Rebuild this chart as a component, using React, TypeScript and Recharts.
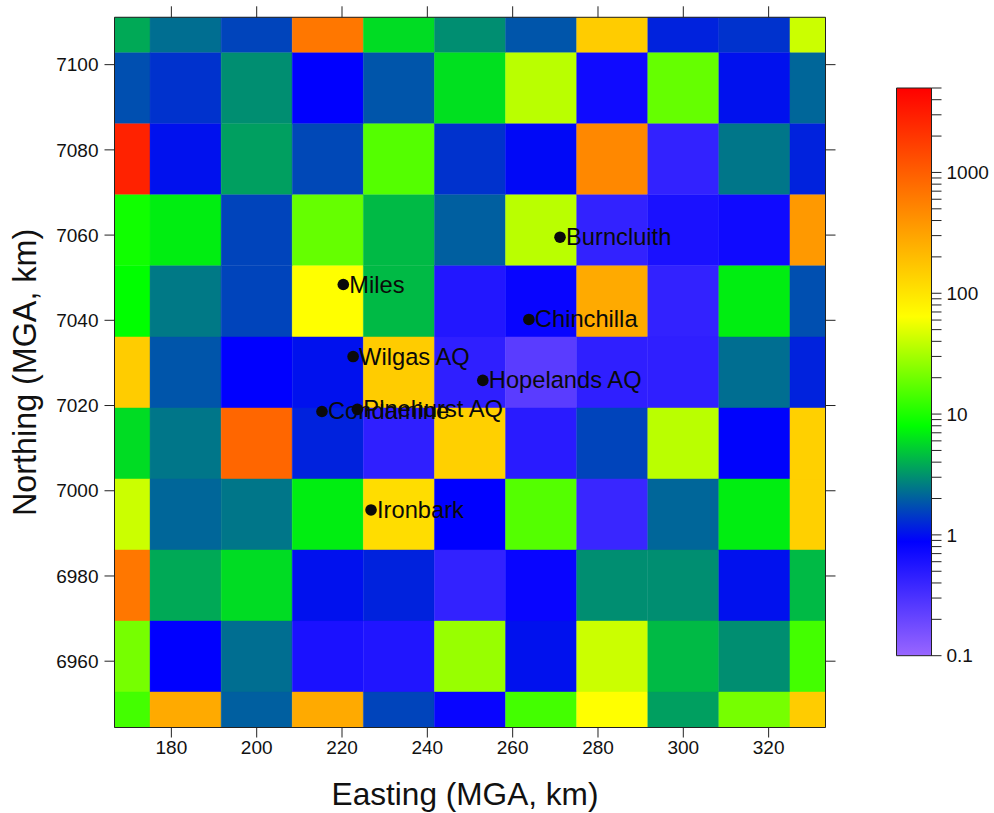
import { ReferenceArea, Scatter, ScatterChart, XAxis, YAxis } from "recharts";

const FONT = "'Liberation Sans', Arial, sans-serif";
const INK = "#222";

const xEdges = [166.67, 175, 191.67, 208.33, 225, 241.67, 258.33, 275, 291.67, 308.33, 325, 333.33];
const yEdges = [7111.11, 7102.78, 7086.11, 7069.44, 7052.78, 7036.11, 7019.44, 7002.78, 6986.11, 6969.44, 6952.78, 6944.44];

const xTicks = [180, 200, 220, 240, 260, 280, 300, 320];
const yTicks = [6960, 6980, 7000, 7020, 7040, 7060, 7080, 7100];

// one row per northing band, north first, west to east
const row0 = [3.81, 2.29, 1.58, 653, 5.9, 3.0, 1.83, 153, 1.18, 1.36, 42];
const row1 = [1.75, 1.36, 3.0, 0.88, 1.83, 6.1, 36.6, 0.71, 18.3, 1.02, 2.12];
const row2 = [2800, 1.02, 3.5, 1.64, 15.9, 1.36, 0.94, 489, 0.43, 2.45, 1.18];
const row3 = [9.1, 6.9, 1.58, 18.3, 4.4, 2.0, 36.6, 0.43, 0.61, 0.71, 366];
const row4 = [8, 2.5, 1.58, 64, 4.4, 0.54, 0.79, 274, 0.43, 6.9, 1.75];
const row5 = [153, 1.83, 0.88, 1.02, 153, 0.45, 0.245, 0.45, 0.45, 2.29, 1.18];
const row6 = [5.9, 2.45, 873, 1.18, 0.45, 143, 0.49, 1.58, 36.6, 0.9, 143];
const row7 = [42, 2.12, 2.45, 6.9, 114, 0.88, 15.9, 0.39, 2.12, 6.9, 143];
const row8 = [653, 3.81, 5.9, 1.02, 1.18, 0.43, 0.79, 3.0, 3.0, 1.02, 4.4];
const row9 = [21, 0.88, 2.29, 0.61, 0.56, 27.7, 1.02, 42, 4.4, 3.0, 13.8];
const row10 = [13.8, 274, 2.0, 274, 1.58, 0.79, 13.8, 64, 3.5, 21, 153];
const rows = [row0, row1, row2, row3, row4, row5, row6, row7, row8, row9, row10];

const stations = [
  { name: "Burncluith", x: 271.1, y: 7059.5 },
  { name: "Miles", x: 220.3, y: 7048.4 },
  { name: "Chinchilla", x: 263.8, y: 7040.2 },
  { name: "Wilgas AQ", x: 222.6, y: 7031.5 },
  { name: "Hopelands AQ", x: 253, y: 7025.9 },
  { name: "Condamine", x: 215.3, y: 7018.6 },
  { name: "Pinehurst AQ", x: 223.6, y: 7019.1 },
  { name: "Ironbark", x: 226.8, y: 6995.5 },
];

const barTicks = [
  0.1, 0.2, 0.3, 0.4, 0.5, 0.6, 0.7, 0.8, 0.9, 1, 2, 3, 4, 5, 6, 7, 8, 9, 10, 20, 30, 40, 50, 60, 70, 80, 90,
  100, 200, 300, 400, 500, 600, 700, 800, 900, 1000, 2000, 3000, 4000, 5000,
];
const barLabels = [0.1, 1, 10, 100, 1000];

const BAR_MIN = 0.1;
const BAR_MAX = 5000;
const colorStops: [number, number[]][] = [
  [0.1, [153, 102, 255]],
  [0.88, [0, 0, 255]],
  [8, [0, 255, 0]],
  [64, [255, 255, 0]],
  [5000, [255, 0, 0]],
];

function colorFor(v: number) {
  const lv = Math.log10(v);
  for (let i = 0; i < colorStops.length - 1; i++) {
    const [a, ca] = colorStops[i];
    const [b, cb] = colorStops[i + 1];
    if (v <= b) {
      const t = Math.max(0, (lv - Math.log10(a)) / (Math.log10(b) - Math.log10(a)));
      const c = ca.map((k, j) => Math.round(k + (cb[j] - k) * t));
      return `rgb(${c[0]},${c[1]},${c[2]})`;
    }
  }
  return "rgb(255,0,0)";
}

const stopOffset = (v: number) =>
  1 - (Math.log10(v) - Math.log10(BAR_MIN)) / (Math.log10(BAR_MAX) - Math.log10(BAR_MIN));

const StationMark = (props: any) => (
  <g>
    <circle cx={props.cx} cy={props.cy} r={5.8} fill="#0a0a0a" />
    <text x={props.cx + 6} y={props.cy + 8} fontSize={23.7} fontFamily={FONT} fill="#0a0a0a">
      {props.payload.name}
    </text>
  </g>
);

const tickStyle = { fontSize: 19, fontFamily: FONT, fill: "#111" };
const line = { stroke: INK, strokeWidth: 1 };
const titleStyle = { fontSize: 31.6, fontFamily: FONT, fill: "#111" };
const xDomain: [number, number] = [xEdges[0], xEdges[xEdges.length - 1]];
const yDomain: [number, number] = [yEdges[yEdges.length - 1], yEdges[0]];

function MapChart() {
  return (
    <ScatterChart width={994} height={813} margin={{ top: 0, right: 0, bottom: 0, left: 0 }}>
      <XAxis
        xAxisId="b"
        type="number"
        dataKey="x"
        orientation="bottom"
        domain={xDomain}
        ticks={xTicks}
        interval={0}
        allowDataOverflow
        height={85.5}
        axisLine={line}
        tickLine={line}
        tickSize={10}
        tickMargin={3}
        tick={tickStyle}
        label={{ value: "Easting (MGA, km)", position: "insideBottom", offset: 8, dx: -5, style: titleStyle }}
      />
      <XAxis
        xAxisId="t"
        type="number"
        dataKey="x"
        orientation="top"
        domain={xDomain}
        ticks={xTicks}
        interval={0}
        allowDataOverflow
        height={17.3}
        axisLine={line}
        tickLine={line}
        tickSize={11}
        tickFormatter={() => ""}
      />
      <YAxis
        yAxisId="l"
        type="number"
        dataKey="y"
        orientation="left"
        domain={yDomain}
        ticks={yTicks}
        interval={0}
        allowDataOverflow
        width={114.5}
        axisLine={line}
        tickLine={line}
        tickSize={10}
        tickMargin={6}
        tick={tickStyle}
        label={{
          value: "Northing (MGA, km)",
          angle: -90,
          position: "insideLeft",
          offset: 25,
          style: { ...titleStyle, fontSize: 32.3, textAnchor: "middle" },
        }}
      />
      <YAxis
        yAxisId="r"
        type="number"
        dataKey="y"
        orientation="right"
        domain={yDomain}
        ticks={yTicks}
        interval={0}
        allowDataOverflow
        width={168.5}
        axisLine={line}
        tickLine={line}
        tickSize={10}
        tickFormatter={() => ""}
      />
      {rows.map((row, r) =>
        row.map((v, c) => (
          <ReferenceArea
            key={`${r}-${c}`}
            xAxisId="b"
            yAxisId="l"
            x1={xEdges[c]}
            x2={xEdges[c + 1]}
            y1={yEdges[r + 1]}
            y2={yEdges[r]}
            fill={colorFor(v)}
            fillOpacity={1}
            stroke={colorFor(v)}
            strokeWidth={0.4}
            ifOverflow="visible"
          />
        )),
      )}
      <Scatter xAxisId="b" yAxisId="l" data={stations} shape={StationMark} isAnimationActive={false} />
    </ScatterChart>
  );
}

function ColorBar() {
  return (
    <ScatterChart width={124} height={600} margin={{ top: 18, right: 0, bottom: 14.3, left: 27.5 }}>
      <defs>
        <linearGradient id="bar-grad" x1="0" y1="0" x2="0" y2="1">
          {[...colorStops].reverse().map(([v, c]) => (
            <stop key={v} offset={stopOffset(v)} stopColor={`rgb(${c[0]},${c[1]},${c[2]})`} />
          ))}
        </linearGradient>
      </defs>
      <XAxis type="number" dataKey="x" domain={[0, 1]} allowDataOverflow hide />
      <YAxis
        type="number"
        dataKey="y"
        orientation="right"
        scale="log"
        domain={[BAR_MIN, BAR_MAX]}
        ticks={barTicks}
        interval={0}
        allowDataOverflow
        width={61.5}
        axisLine={line}
        tickLine={line}
        tickSize={10}
        tickMargin={5}
        tick={tickStyle}
        tickFormatter={(v: number) => (barLabels.includes(v) ? String(v) : "")}
      />
      <ReferenceArea
        x1={0}
        x2={1}
        y1={BAR_MIN}
        y2={BAR_MAX}
        fill="url(#bar-grad)"
        fillOpacity={1}
        stroke={INK}
        strokeWidth={1}
        ifOverflow="visible"
      />
      <Scatter data={[]} isAnimationActive={false} />
    </ScatterChart>
  );
}

export default function App() {
  return (
    <div style={{ position: "absolute", left: 0, top: 0, width: 994, height: 813 }}>
      <div style={{ position: "absolute", left: 0, top: 0 }}>
        <MapChart />
      </div>
      <div style={{ position: "absolute", left: 869, top: 70 }}>
        <ColorBar />
      </div>
    </div>
  );
}
